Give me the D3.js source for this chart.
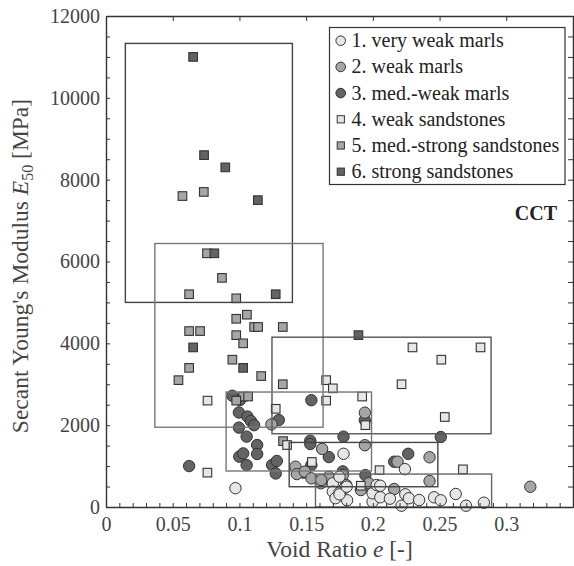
<!DOCTYPE html>
<html><head><meta charset="utf-8">
<script src="https://cdn.jsdelivr.net/npm/d3@7"></script>
<style>
body{margin:0;background:#fff;}
svg{display:block;font-family:"Liberation Serif","Times New Roman",serif;}
</style></head>
<body><svg id="chart" width="574" height="566"></svg>
<script>
// ---- data (void ratio e, E50 MPa) ----
const seriesNames = ["1. very weak marls","2. weak marls","3. med.-weak marls","4. weak sandstones","5. med.-strong sandstones","6. strong sandstones"];
const veryWeakMarls = [[0.097,460],[0.178,1300],[0.224,925],[0.170,580],[0.175,740],[0.1787,460],[0.170,375],[0.175,350],[0.172,215],[0.1807,165],[0.175,310],[0.1998,130],[0.1998,335],[0.2028,537],[0.2055,520],[0.2056,237],[0.2128,203],[0.2215,32],[0.2243,310],[0.227,213],[0.2347,171],[0.2459,237],[0.2509,164],[0.2621,318],[0.2698,32],[0.2832,105],[0.1804,496]];
const weakMarls = [[0.318,495],[0.194,2305],[0.124,2020],[0.162,1420],[0.194,1510],[0.2425,1215],[0.2425,635],[0.216,440],[0.200,360],[0.142,985],[0.143,805],[0.149,865],[0.154,700],[0.161,580],[0.167,740],[0.1775,780],[0.180,540],[0.191,415],[0.1613,660],[0.197,580],[0.2185,1107]];
const medWeakMarls = [[0.0623,1000],[0.0947,2720],[0.1004,2615],[0.0996,2310],[0.106,2210],[0.1086,2100],[0.111,2000],[0.0996,1940],[0.1054,1720],[0.1133,1515],[0.0999,1230],[0.1028,1310],[0.1133,1295],[0.1054,1025],[0.1245,1025],[0.128,1125],[0.1272,820],[0.1295,2125],[0.1539,2610],[0.1531,1620],[0.1531,1540],[0.167,1220],[0.178,1720],[0.1539,1025],[0.148,840],[0.1944,780],[0.2509,1710],[0.2265,1300],[0.216,1107],[0.194,2120],[0.1775,870]];
const weakSandstones = [[0.0761,2600],[0.076,840],[0.1272,2400],[0.165,3100],[0.170,2900],[0.165,2600],[0.192,2700],[0.1944,2000],[0.1357,1515],[0.2297,3900],[0.2807,3900],[0.2513,3600],[0.2215,3000],[0.2539,2200],[0.205,900],[0.2675,920],[0.191,520],[0.1543,1100]];
const medStrongSandstones = [[0.0573,7600],[0.0733,7700],[0.0757,6200],[0.0869,5600],[0.0623,5200],[0.0976,5100],[0.1056,4700],[0.0976,4600],[0.111,4400],[0.114,4400],[0.1325,4400],[0.0623,4300],[0.0705,4300],[0.0976,4200],[0.1028,4000],[0.0947,3600],[0.0623,3400],[0.1163,3200],[0.0543,3100],[0.1325,3000],[0.1028,2700],[0.1065,2700],[0.0976,2600],[0.1327,1610]];
const strongSandstones = [[0.0653,11000],[0.0735,8600],[0.0894,8300],[0.1138,7500],[0.0812,6200],[0.1272,5200],[0.0653,3900],[0.1028,3400],[0.1892,4200]];
// envelope boxes: [eMin, eMax, Emin, Emax]
const envelopes = [[0.0145,0.1397,5000,11330],[0.0366,0.1627,1950,6440],[0.1244,0.2886,1790,4150],[0.090,0.199,880,2810],[0.1373,0.2487,495,1578],[0.157,0.289,0,805]];
const envelopeColors = ["#444","#777","#555","#777","#444","#666"];
const xTickLabels = ["0","0.05","0.1","0.15","0.2","0.25","0.3"];
const yTickLabels = ["0","2000","4000","6000","8000","10000","12000"];

const fills = ["#e6e6e6","#a6a6a6","#636363","#e6e6e6","#a6a6a6","#636363"];
const shapes = ["c","c","c","s","s","s"];
const allSeries = [veryWeakMarls,weakMarls,medWeakMarls,weakSandstones,medStrongSandstones,strongSandstones];

const svg = d3.select("#chart");
const x = d3.scaleLinear().domain([0,0.35]).range([106,573]);
const y = d3.scaleLinear().domain([0,12000]).range([507,16]);
const axisColor = "#333";

// points: circles (dark first), then squares
const drawOrder = [2,1,0,4,5,3];
drawOrder.forEach(si=>{
  const g = svg.append("g");
  const data = allSeries[si];
  if(shapes[si]==="c"){
    g.selectAll("circle").data(data).join("circle")
      .attr("cx",d=>x(d[0])).attr("cy",d=>y(d[1])).attr("r",5.7)
      .attr("fill",fills[si]).attr("stroke","#333").attr("stroke-width",1);
  } else {
    const s=8.6;
    g.selectAll("rect").data(data).join("rect")
      .attr("x",d=>x(d[0])-s/2).attr("y",d=>y(d[1])-s/2).attr("width",s).attr("height",s)
      .attr("fill",fills[si]).attr("stroke","#333").attr("stroke-width",1.1);
  }
});

// envelopes
svg.append("g").selectAll("rect").data(envelopes).join("rect")
  .attr("x",d=>x(d[0])).attr("y",d=>y(d[3]))
  .attr("width",d=>x(d[1])-x(d[0])).attr("height",d=>y(d[2])-y(d[3]))
  .attr("fill","none").attr("stroke",(d,i)=>envelopeColors[i]).attr("stroke-width",1.4);

// axes
const xTicks = d3.range(0,36).map(i=>i/100);
const gBottom = svg.append("g").attr("transform",`translate(0,${y(0)})`)
  .call(d3.axisBottom(x).tickValues(xTicks).tickSize(-4).tickSizeOuter(0).tickPadding(10)
    .tickFormat((d,i)=> (i%5===0 && i/5<xTickLabels.length) ? xTickLabels[i/5] : ""));
const gTop = svg.append("g").attr("transform",`translate(0,${y(12000)})`)
  .call(d3.axisTop(x).tickValues(d3.range(0,8).map(i=>i*0.05)).tickSize(-5).tickSizeOuter(0).tickFormat(""));
const yTicks = d3.range(0,25).map(i=>i*500);
const gLeft = svg.append("g").attr("transform",`translate(${x(0)},0)`)
  .call(d3.axisLeft(y).tickValues(yTicks).tickSize(-4).tickSizeOuter(0).tickPadding(6)
    .tickFormat((d,i)=> d%2000===0 ? yTickLabels[d/2000] : ""));
const gRight = svg.append("g").attr("transform",`translate(${x(0.35)},0)`)
  .call(d3.axisRight(y).tickValues(yTicks).tickSize(-5).tickSizeOuter(0).tickFormat(""));
[gBottom,gTop,gLeft,gRight].forEach(g=>{
  g.selectAll("path.domain").attr("stroke",axisColor).attr("stroke-width",1.4);
  g.selectAll(".tick line").attr("stroke",axisColor).attr("stroke-width",1);
  g.selectAll(".tick text").attr("fill","#444").style("font-size","20px").style("font-family","Liberation Serif");
});

// axis titles
svg.append("text").attr("x",(x(0)+x(0.35))/2).attr("y",557).attr("text-anchor","middle")
  .style("font-size","23.5px").attr("fill","#444")
  .html('Void Ratio <tspan font-style="italic">e</tspan> [-]');
svg.append("text").attr("transform",`translate(28,266) rotate(-90)`).attr("text-anchor","middle")
  .style("font-size","23.5px").attr("fill","#444")
  .html('Secant Young\'s Modulus <tspan font-style="italic">E</tspan><tspan dy="5" font-size="16px">50</tspan><tspan dy="-5"> [MPa]</tspan>');

// CCT
svg.append("text").attr("x",557).attr("y",220).attr("text-anchor","end")
  .style("font-size","20px").style("font-weight","bold").attr("fill","#222").text("CCT");

// legend
const lg = svg.append("g");
lg.append("rect").attr("x",329.5).attr("y",27.5).attr("width",235.5).attr("height",157)
  .attr("fill","#fff").attr("stroke","#333").attr("stroke-width",1.2);
seriesNames.forEach((name,i)=>{
  const cy = 40.7 + i*26.2;
  if(shapes[i]==="c"){
    lg.append("circle").attr("cx",340.7).attr("cy",cy).attr("r",4.8).attr("fill",fills[i]).attr("stroke","#333");
  } else {
    lg.append("rect").attr("x",337.2).attr("y",cy-3.6).attr("width",7.2).attr("height",7.2).attr("fill",fills[i]).attr("stroke","#333");
  }
  lg.append("text").attr("x",351.5).attr("y",cy+6.5).style("font-size","20px").attr("fill","#222").text(name);
});
</script></body></html>
